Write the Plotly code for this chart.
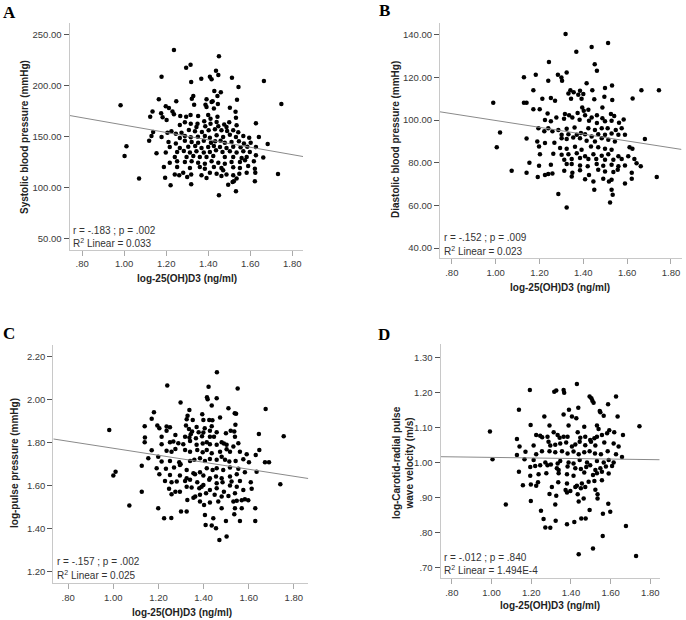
import plotly.graph_objects as go

W, H = 686, 620

# ---------------- data ----------------
vitd_tickvals = [0.8, 1.0, 1.2, 1.4, 1.6, 1.8]
vitd_ticktext = [".80", "1.00", "1.20", "1.40", "1.60", "1.80"]
x_title = "log-25(OH)D3 (ng/ml)"

sbp_points = [
    (1.237, 234.7), (1.451, 228.5), (1.316, 220.4), (1.295, 217.4), (1.437, 214.5), (1.178, 208.6),
    (1.408, 208.6), (1.448, 210.3), (1.416, 206.0), (1.367, 206.7), (1.513, 207.6), (1.319, 203.4),
    (1.665, 204.4), (1.544, 198.5), (1.429, 194.6), (1.460, 193.3), (1.329, 189.7), (1.444, 189.7),
    (1.165, 186.5), (1.248, 184.5), (1.392, 186.5), (1.421, 184.5), (1.537, 186.1), (0.983, 180.6),
    (1.748, 181.9), (1.322, 187.1), (1.333, 181.3), (1.387, 181.3), (1.416, 183.9), (1.446, 181.9),
    (1.198, 179.6), (1.213, 178.0), (1.392, 179.0), (1.427, 177.4), (1.503, 178.3), (1.135, 174.7),
    (1.176, 172.8), (1.124, 169.5), (1.183, 168.9), (1.230, 174.7), (1.237, 171.8), (1.267, 170.2),
    (1.316, 171.2), (1.295, 169.5), (1.352, 170.2), (1.400, 171.2), (1.411, 167.6), (1.444, 169.5),
    (1.530, 174.4), (1.532, 168.6), (1.202, 166.3), (1.289, 164.0), (1.317, 162.7), (1.349, 162.7),
    (1.381, 165.0), (1.411, 162.7), (1.440, 164.3), (1.476, 162.0), (1.500, 164.0), (1.535, 161.1),
    (1.627, 163.0), (1.265, 161.4), (1.344, 159.4), (1.386, 160.1), (1.448, 160.1), (1.487, 159.4),
    (1.138, 154.6), (1.225, 155.2), (1.206, 153.9), (1.246, 152.9), (1.273, 153.9), (1.308, 156.5),
    (1.337, 155.2), (1.370, 154.6), (1.402, 156.2), (1.432, 157.2), (1.463, 156.2), (1.490, 155.5),
    (1.519, 156.2), (1.543, 154.2), (1.130, 150.6), (1.178, 149.7), (1.265, 148.7), (1.289, 150.6),
    (1.317, 149.3), (1.351, 150.0), (1.384, 150.6), (1.408, 149.0), (1.440, 151.3), (1.471, 149.7),
    (1.503, 151.9), (1.532, 149.7), (1.567, 150.6), (1.595, 149.0), (1.641, 149.7), (1.119, 146.1),
    (1.211, 144.8), (1.246, 143.2), (1.289, 146.1), (1.321, 144.8), (1.352, 144.1), (1.379, 146.1),
    (1.413, 144.1), (1.433, 145.4), (1.459, 146.1), (1.479, 144.1), (1.511, 144.8), (1.546, 145.4),
    (1.570, 143.2), (1.602, 144.1), (1.683, 142.8), (1.217, 139.9), (1.265, 138.9), (1.305, 140.2),
    (1.338, 140.9), (1.368, 138.9), (1.400, 139.9), (1.427, 140.9), (1.456, 139.9), (1.487, 138.9),
    (1.519, 140.2), (1.554, 139.6), (1.586, 140.2), (1.627, 139.9), (1.011, 140.5), (1.002, 131.1),
    (1.154, 133.7), (1.198, 134.4), (1.252, 135.0), (1.284, 136.0), (1.313, 134.4), (1.344, 135.7),
    (1.379, 134.4), (1.408, 135.0), (1.437, 136.6), (1.468, 135.0), (1.503, 135.7), (1.535, 134.4),
    (1.567, 135.7), (1.598, 135.0), (1.627, 131.8), (1.662, 129.5), (1.241, 130.1), (1.297, 130.1),
    (1.329, 131.1), (1.360, 130.1), (1.392, 130.1), (1.424, 131.1), (1.479, 130.1), (1.519, 130.1),
    (1.559, 129.2), (1.583, 130.1), (1.217, 124.6), (1.252, 125.9), (1.289, 125.2), (1.321, 125.9),
    (1.352, 124.6), (1.384, 123.6), (1.416, 125.9), (1.448, 124.6), (1.479, 123.6), (1.511, 125.2),
    (1.551, 125.2), (1.575, 126.9), (1.617, 125.9), (1.189, 120.3), (1.252, 120.3), (1.313, 119.4),
    (1.360, 120.3), (1.384, 118.7), (1.427, 120.3), (1.463, 119.4), (1.471, 117.1), (1.519, 120.0),
    (1.551, 119.4), (1.590, 121.3), (1.622, 118.7), (1.281, 114.8), (1.241, 112.9), (1.262, 112.2),
    (1.319, 112.9), (1.368, 112.2), (1.408, 114.8), (1.440, 113.8), (1.487, 112.9), (1.519, 112.2),
    (1.548, 113.8), (1.583, 114.8), (1.624, 114.8), (1.732, 113.5), (1.071, 109.0), (1.195, 109.9),
    (1.300, 110.6), (1.392, 109.6), (1.463, 111.6), (1.535, 109.0), (1.522, 106.3), (1.622, 106.3),
    (1.221, 102.4), (1.319, 103.4), (1.495, 103.1), (1.516, 105.7), (1.532, 96.6), (1.451, 92.7),
]

dbp_points = [
    (1.319, 140.3), (1.513, 136.1), (1.438, 134.2), (1.368, 132.0), (1.243, 127.2), (1.452, 126.2),
    (1.462, 123.1), (1.183, 121.2), (1.129, 120.1), (1.284, 121.2), (1.324, 122.3), (1.300, 120.0),
    (1.303, 118.4), (1.240, 118.4), (1.415, 117.2), (1.172, 114.0), (1.341, 114.0), (1.385, 113.7),
    (1.441, 114.0), (1.499, 115.0), (1.531, 116.2), (1.665, 114.0), (1.745, 114.0), (1.356, 113.0),
    (1.332, 112.5), (1.377, 111.9), (1.400, 112.2), (0.989, 108.1), (1.129, 108.1), (1.141, 108.1),
    (1.213, 110.0), (1.252, 110.3), (1.271, 109.0), (1.344, 110.0), (1.392, 110.0), (1.450, 109.7),
    (1.496, 110.9), (1.532, 109.4), (1.625, 110.1), (1.172, 105.1), (1.201, 105.1), (1.237, 103.1),
    (1.277, 101.2), (1.316, 102.8), (1.335, 102.2), (1.374, 103.3), (1.395, 105.9), (1.402, 104.4),
    (1.423, 104.8), (1.408, 102.2), (1.462, 102.2), (1.487, 105.9), (1.438, 101.2), (1.487, 100.9),
    (1.526, 102.8), (1.541, 101.9), (1.584, 100.3), (1.225, 100.0), (1.252, 99.4), (1.312, 100.6),
    (1.350, 101.2), (1.383, 100.1), (1.426, 99.7), (1.462, 98.6), (1.499, 99.4), (1.529, 99.7),
    (1.563, 98.7), (1.195, 96.2), (1.240, 96.2), (1.259, 94.7), (1.222, 94.7), (1.286, 95.4),
    (1.324, 95.9), (1.360, 96.5), (1.389, 93.9), (1.423, 96.2), (1.453, 95.4), (1.484, 96.2),
    (1.511, 96.2), (1.548, 95.3), (1.575, 96.2), (1.590, 93.1), (1.301, 93.1), (1.332, 93.4),
    (1.370, 93.1), (1.408, 93.4), (1.438, 92.3), (1.468, 93.4), (1.499, 93.1), (1.529, 93.7),
    (1.560, 93.1), (1.020, 94.2), (1.141, 91.4), (1.190, 90.0), (1.225, 89.2), (1.268, 89.4),
    (1.301, 91.5), (1.324, 91.1), (1.354, 91.8), (1.385, 91.5), (1.415, 90.3), (1.453, 90.0),
    (1.484, 91.5), (1.514, 90.8), (1.544, 90.0), (1.681, 91.1), (1.005, 87.3), (1.198, 87.6),
    (1.294, 86.9), (1.324, 86.5), (1.362, 87.5), (1.392, 86.1), (1.435, 87.6), (1.468, 87.2),
    (1.499, 86.5), (1.529, 86.1), (1.611, 87.3), (1.624, 86.5), (1.263, 84.2), (1.301, 83.7),
    (1.332, 84.0), (1.370, 84.4), (1.408, 83.0), (1.446, 84.0), (1.484, 83.3), (1.514, 84.0),
    (1.560, 83.0), (1.605, 83.0), (1.202, 84.0), (1.313, 81.4), (1.347, 81.7), (1.385, 82.2),
    (1.423, 81.7), (1.459, 81.8), (1.499, 81.4), (1.537, 81.4), (1.575, 81.8), (1.633, 81.8),
    (1.154, 80.0), (1.198, 78.6), (1.252, 79.1), (1.324, 79.4), (1.347, 79.4), (1.385, 78.7),
    (1.420, 78.3), (1.461, 79.4), (1.491, 78.6), (1.529, 79.1), (1.560, 78.3), (1.590, 78.7),
    (1.643, 79.8), (1.662, 78.3), (1.073, 76.2), (1.141, 75.3), (1.225, 74.3), (1.240, 74.7),
    (1.259, 75.0), (1.313, 76.2), (1.350, 75.3), (1.385, 76.5), (1.426, 74.3), (1.468, 76.7),
    (1.499, 75.9), (1.537, 75.6), (1.557, 76.7), (1.621, 75.3), (1.192, 73.3), (1.347, 73.6),
    (1.408, 72.2), (1.446, 71.2), (1.491, 72.5), (1.517, 71.2), (1.529, 72.0), (1.590, 70.3),
    (1.621, 72.5), (1.735, 73.3), (1.450, 67.3), (1.529, 67.3), (1.286, 65.3), (1.534, 65.0),
    (1.522, 61.4), (1.324, 59.0),
]

pp_points = [
    (1.459, 2.127), (1.239, 2.065), (1.422, 2.060), (1.551, 2.051), (1.415, 2.011), (1.418, 2.001),
    (1.458, 2.006), (1.298, 1.986), (1.436, 1.972), (1.337, 1.951), (1.510, 1.959), (1.538, 1.936),
    (1.544, 1.934), (1.675, 1.956), (1.180, 1.941), (1.170, 1.910), (1.329, 1.924), (1.325, 1.908),
    (1.352, 1.905), (1.394, 1.931), (1.399, 1.905), (1.425, 1.905), (1.439, 1.903), (1.473, 1.916),
    (1.139, 1.876), (1.195, 1.879), (1.204, 1.866), (1.236, 1.874), (1.251, 1.871), (1.322, 1.879),
    (1.335, 1.863), (1.369, 1.872), (1.405, 1.866), (1.436, 1.876), (1.541, 1.883), (1.536, 1.851),
    (1.349, 1.851), (1.343, 1.838), (1.378, 1.848), (1.399, 1.846), (1.428, 1.854), (1.458, 1.848),
    (1.499, 1.843), (1.140, 1.823), (1.139, 1.801), (1.214, 1.827), (1.236, 1.854), (1.275, 1.835),
    (1.318, 1.827), (1.337, 1.823), (1.366, 1.820), (1.393, 1.829), (1.428, 1.827), (1.446, 1.827),
    (1.520, 1.854), (1.539, 1.827), (1.645, 1.840), (1.755, 1.829), (0.982, 1.858), (1.170, 1.764),
    (1.214, 1.792), (1.251, 1.801), (1.266, 1.804), (1.288, 1.796), (1.310, 1.792), (1.340, 1.807),
    (1.369, 1.789), (1.396, 1.795), (1.414, 1.801), (1.428, 1.792), (1.458, 1.789), (1.480, 1.801),
    (1.490, 1.795), (1.502, 1.789), (1.532, 1.781), (1.554, 1.796), (1.647, 1.765), (1.631, 1.742),
    (1.236, 1.761), (1.258, 1.757), (1.275, 1.770), (1.318, 1.765), (1.340, 1.757), (1.372, 1.765),
    (1.396, 1.754), (1.414, 1.765), (1.436, 1.750), (1.473, 1.757), (1.502, 1.768), (1.517, 1.757),
    (1.561, 1.757), (1.591, 1.745), (1.155, 1.726), (1.199, 1.734), (1.214, 1.711), (1.251, 1.714),
    (1.292, 1.708), (1.298, 1.698), (1.340, 1.714), (1.359, 1.720), (1.384, 1.726), (1.406, 1.714),
    (1.428, 1.723), (1.458, 1.719), (1.480, 1.734), (1.495, 1.719), (1.514, 1.711), (1.542, 1.714),
    (1.576, 1.722), (1.601, 1.708), (1.672, 1.708), (1.690, 1.708), (1.126, 1.691), (1.192, 1.680),
    (1.233, 1.677), (1.269, 1.683), (1.295, 1.695), (1.325, 1.672), (1.355, 1.657), (1.384, 1.661),
    (1.414, 1.680), (1.440, 1.672), (1.458, 1.680), (1.487, 1.672), (1.517, 1.683), (1.554, 1.677),
    (1.583, 1.661), (1.635, 1.664), (1.204, 1.652), (1.251, 1.649), (1.295, 1.646), (1.325, 1.633),
    (1.362, 1.652), (1.399, 1.646), (1.428, 1.633), (1.455, 1.641), (1.480, 1.633), (1.517, 1.641),
    (1.547, 1.652), (1.000, 1.646), (1.010, 1.664), (1.229, 1.621), (1.258, 1.615), (1.281, 1.618),
    (1.318, 1.621), (1.340, 1.626), (1.372, 1.615), (1.399, 1.602), (1.425, 1.626), (1.458, 1.610),
    (1.484, 1.615), (1.524, 1.618), (1.561, 1.621), (1.609, 1.615), (1.740, 1.605), (1.247, 1.584),
    (1.275, 1.571), (1.295, 1.571), (1.325, 1.594), (1.347, 1.590), (1.381, 1.587), (1.391, 1.594),
    (1.428, 1.579), (1.458, 1.587), (1.490, 1.571), (1.517, 1.599), (1.547, 1.594), (1.576, 1.579),
    (1.613, 1.584), (1.258, 1.559), (1.355, 1.543), (1.384, 1.556), (1.411, 1.563), (1.449, 1.556),
    (1.480, 1.548), (1.510, 1.551), (1.539, 1.563), (1.569, 1.531), (1.598, 1.531), (1.126, 1.570),
    (1.328, 1.532), (1.363, 1.548), (1.384, 1.525), (1.428, 1.520), (1.465, 1.525), (1.532, 1.525),
    (1.547, 1.528), (1.583, 1.535), (1.071, 1.506), (1.199, 1.494), (1.300, 1.478), (1.325, 1.478),
    (1.402, 1.509), (1.480, 1.494), (1.539, 1.494), (1.536, 1.466), (1.569, 1.494), (1.629, 1.494),
    (1.225, 1.447), (1.257, 1.448), (1.406, 1.462), (1.443, 1.447), (1.499, 1.434), (1.561, 1.434),
    (1.629, 1.434), (1.409, 1.416), (1.436, 1.413), (1.455, 1.400), (1.470, 1.346), (1.502, 1.362),
]

pwv_points = [
    (1.430, 1.224), (1.193, 1.207), (1.316, 1.202), (1.326, 1.205), (1.363, 1.207), (1.366, 1.199),
    (1.494, 1.188), (1.503, 1.183), (1.508, 1.176), (1.514, 1.170), (1.627, 1.188), (1.587, 1.166),
    (1.138, 1.150), (1.390, 1.150), (1.437, 1.156), (1.545, 1.147), (1.548, 1.143), (1.363, 1.137),
    (1.405, 1.131), (1.427, 1.126), (1.266, 1.131), (1.565, 1.133), (1.635, 1.131), (0.992, 1.088),
    (1.197, 1.107), (1.745, 1.103), (1.292, 1.105), (1.388, 1.105), (1.467, 1.102), (1.531, 1.105),
    (1.539, 1.095), (1.593, 1.092), (1.128, 1.067), (1.225, 1.078), (1.245, 1.076), (1.255, 1.072),
    (1.282, 1.073), (1.313, 1.086), (1.333, 1.078), (1.343, 1.070), (1.363, 1.073), (1.383, 1.073),
    (1.434, 1.086), (1.447, 1.070), (1.472, 1.073), (1.497, 1.064), (1.518, 1.069), (1.531, 1.073),
    (1.556, 1.078), (1.582, 1.083), (1.618, 1.086), (1.662, 1.078), (1.141, 1.045), (1.212, 1.048),
    (1.287, 1.059), (1.296, 1.048), (1.321, 1.050), (1.346, 1.054), (1.376, 1.057), (1.405, 1.045),
    (1.422, 1.051), (1.444, 1.059), (1.472, 1.049), (1.501, 1.059), (1.523, 1.048), (1.568, 1.057),
    (1.615, 1.054), (1.640, 1.045), (1.171, 1.030), (1.128, 1.021), (1.225, 1.023), (1.254, 1.032),
    (1.292, 1.032), (1.321, 1.029), (1.355, 1.032), (1.383, 1.025), (1.413, 1.031), (1.439, 1.023),
    (1.467, 1.029), (1.494, 1.032), (1.521, 1.025), (1.551, 1.023), (1.585, 1.032), (1.627, 1.023),
    (1.657, 1.015), (1.005, 1.009), (1.166, 1.009), (1.212, 1.007), (1.271, 1.000), (1.299, 0.994),
    (1.333, 0.997), (1.346, 1.004), (1.388, 1.000), (1.413, 0.997), (1.444, 1.007), (1.481, 1.000),
    (1.497, 0.992), (1.531, 1.004), (1.565, 1.000), (1.590, 1.007), (1.615, 1.000), (1.195, 0.987),
    (1.220, 0.990), (1.245, 0.992), (1.282, 0.992), (1.329, 0.983), (1.338, 0.978), (1.383, 0.988),
    (1.422, 0.983), (1.450, 0.981), (1.477, 0.987), (1.523, 0.978), (1.548, 0.983), (1.576, 0.988),
    (1.607, 0.990), (1.138, 0.973), (1.195, 0.962), (1.237, 0.966), (1.276, 0.969), (1.338, 0.969),
    (1.380, 0.966), (1.413, 0.962), (1.467, 0.971), (1.511, 0.964), (1.531, 0.969), (1.556, 0.973),
    (1.590, 0.968), (1.158, 0.935), (1.198, 0.937), (1.225, 0.933), (1.234, 0.943), (1.336, 0.943),
    (1.380, 0.940), (1.430, 0.933), (1.455, 0.940), (1.489, 0.945), (1.518, 0.947), (1.556, 0.949),
    (1.304, 0.930), (1.373, 0.921), (1.397, 0.918), (1.422, 0.930), (1.450, 0.926), (1.472, 0.930),
    (1.523, 0.922), (1.292, 0.910), (1.380, 0.914), (1.434, 0.909), (1.534, 0.909), (1.326, 0.905),
    (1.464, 0.897), (1.198, 0.890), (1.072, 0.880), (1.249, 0.862), (1.588, 0.882), (1.321, 0.880),
    (1.439, 0.888), (1.534, 0.897), (1.494, 0.864), (1.598, 0.859), (1.561, 0.853), (1.262, 0.838),
    (1.323, 0.833), (1.380, 0.823), (1.417, 0.830), (1.452, 0.840), (1.474, 0.840), (1.271, 0.814),
    (1.296, 0.813), (1.677, 0.818), (1.560, 0.790), (1.511, 0.754), (1.439, 0.738), (1.728, 0.733),
]

# y-axis ticks
sbp_tickvals = [50, 100, 150, 200, 250]
sbp_ticktext = ["50.00", "100.00", "150.00", "200.00", "250.00"]
dbp_tickvals = [40, 60, 80, 100, 120, 140]
dbp_ticktext = ["40.00", "60.00", "80.00", "100.00", "120.00", "140.00"]
pp_tickvals = [1.2, 1.4, 1.6, 1.8, 2.0, 2.2]
pp_ticktext = ["1.20", "1.40", "1.60", "1.80", "2.00", "2.20"]
pwv_tickvals = [0.7, 0.8, 0.9, 1.0, 1.1, 1.2, 1.3]
pwv_ticktext = [".70", ".80", ".90", "1.00", "1.10", "1.20", "1.30"]

# linear fits (intercept, slope) as drawn
sbp_fit = (197.4, -36.1)
dbp_fit = (115.8, -16.0)
pp_fit = (1.936, -0.163)
pwv_fit = (1.022, -0.0078)

sbp_stats = ["r = -.183 ; p = .002", "R<sup>2</sup> Linear = 0.033"]
dbp_stats = ["r = -.152 ; p = .009", "R<sup>2</sup> Linear = 0.023"]
pp_stats = ["r = -.157 ; p = .002", "R<sup>2</sup> Linear = 0.025"]
pwv_stats = ["r = -.012 ; p = .840", "R<sup>2</sup> Linear = 1.494E-4"]

# ---------------- layout helpers ----------------
def fx(px):
    return px / W

def fy(py):
    return 1 - py / H

FONT = "Liberation Sans, Arial, sans-serif"

panels = [
    dict(letter="A", pts=sbp_points, fit=sbp_fit, stats=sbp_stats,
         tv=sbp_tickvals, tt=sbp_ticktext, ytitle=["Systolic blood pressure (mmHg)"],
         box=(69.5, 303.0, 23.0, 250.0), xr=[0.740, 1.851], yr=[39.2, 261.1],
         letter_pos=(9, 12), ytitle_pos=(24, 137), xtitle_pos=(187, 278),
         stats_pos=(71, 230, 243)),
    dict(letter="B", pts=dbp_points, fit=dbp_fit, stats=dbp_stats,
         tv=dbp_tickvals, tt=dbp_ticktext, ytitle=["Diastolic blood pressure (mmHg)"],
         box=(440.0, 681.5, 23.0, 258.3), xr=[0.746, 1.848], yr=[35.2, 145.5],
         letter_pos=(384, 11), ytitle_pos=(395, 140), xtitle_pos=(560, 287),
         stats_pos=(442, 238, 251)),
    dict(letter="C", pts=pp_points, fit=pp_fit, stats=pp_stats,
         tv=pp_tickvals, tt=pp_ticktext, ytitle=["log-pulse pressure (mmHg)"],
         box=(53.3, 308.3, 345.0, 583.3), xr=[0.734, 1.864], yr=[1.144, 2.254],
         letter_pos=(9, 333), ytitle_pos=(14, 463), xtitle_pos=(182, 612),
         stats_pos=(55, 561, 575)),
    dict(letter="D", pts=pwv_points, fit=pwv_fit, stats=pwv_stats,
         tv=pwv_tickvals, tt=pwv_ticktext,
         ytitle=["log-Carotid-radial pulse", "wave velocity (m/s)"],
         box=(440.5, 659.7, 344.0, 578.3), xr=[0.743, 1.847], yr=[0.669, 1.338],
         letter_pos=(384, 334), ytitle_pos=(403, 462), xtitle_pos=(550, 605),
         stats_pos=(442, 557, 570)),
]

fig = go.Figure()
annotations = []
layout_axes = {}

for i, p in enumerate(panels):
    n = i + 1
    xa = "x" if n == 1 else f"x{n}"
    ya = "y" if n == 1 else f"y{n}"
    xs = [pt[0] for pt in p["pts"]]
    ys = [pt[1] for pt in p["pts"]]
    fig.add_trace(go.Scatter(
        x=xs, y=ys, mode="markers", xaxis=xa, yaxis=ya,
        marker=dict(size=4.5, color="black", line=dict(width=0)),
        showlegend=False, hoverinfo="skip"))
    a, b = p["fit"]
    fig.add_trace(go.Scatter(
        x=p["xr"], y=[a + b * p["xr"][0], a + b * p["xr"][1]], mode="lines",
        xaxis=xa, yaxis=ya, line=dict(color="#8a8a8a", width=1),
        showlegend=False, hoverinfo="skip", cliponaxis=True))

    left, right, top, bottom = p["box"]
    xkey = "xaxis" if n == 1 else f"xaxis{n}"
    ykey = "yaxis" if n == 1 else f"yaxis{n}"
    layout_axes[xkey] = dict(
        domain=[fx(left), fx(right)], anchor=ya, range=p["xr"],
        tickvals=vitd_tickvals, ticktext=vitd_ticktext,
        showgrid=False, zeroline=False, showline=True, linecolor="#c8c8c8", linewidth=1,
        ticks="outside", ticklen=5, tickcolor="#aaaaaa", tickwidth=1,
        tickfont=dict(family=FONT, size=9.5, color="#3a3a3a"), fixedrange=True)
    layout_axes[ykey] = dict(
        domain=[fy(bottom), fy(top)], anchor=xa, range=p["yr"],
        tickvals=p["tv"], ticktext=p["tt"],
        showgrid=False, zeroline=False, showline=True, linecolor="#c8c8c8", linewidth=1,
        ticks="outside", ticklen=5, tickcolor="#555555", tickwidth=1,
        tickfont=dict(family=FONT, size=9.5, color="#3a3a3a"), fixedrange=True)

    # panel letter
    lx, ly = p["letter_pos"]
    annotations.append(dict(
        text=f"<b>{p['letter']}</b>", x=fx(lx), y=fy(ly), xref="paper", yref="paper",
        xanchor="center", yanchor="middle", showarrow=False,
        font=dict(family="Liberation Serif, Times New Roman, serif", size=17, color="black")))
    # y title
    tx, tyc = p["ytitle_pos"]
    annotations.append(dict(
        text="<b>" + "<br>".join(p["ytitle"]) + "</b>", x=fx(tx), y=fy(tyc),
        xref="paper", yref="paper", xanchor="center", yanchor="middle",
        textangle=-90, showarrow=False,
        font=dict(family=FONT, size=10, color="#222222")))
    # x title
    xx, xy = p["xtitle_pos"]
    annotations.append(dict(
        text=f"<b>{x_title}</b>", x=fx(xx), y=fy(xy), xref="paper", yref="paper",
        xanchor="center", yanchor="middle", showarrow=False,
        font=dict(family=FONT, size=10, color="#222222")))
    # stats text
    sx, sy1, sy2 = p["stats_pos"]
    for txt, syy in zip(p["stats"], (sy1, sy2)):
        annotations.append(dict(
            text=txt, x=fx(sx), y=fy(syy), xref="paper", yref="paper",
            xanchor="left", yanchor="middle", showarrow=False,
            font=dict(family=FONT, size=10, color="#333333")))

fig.update_layout(
    width=W, height=H, margin=dict(l=0, r=0, t=0, b=0),
    paper_bgcolor="white", plot_bgcolor="white",
    annotations=annotations, showlegend=False, **layout_axes)

fig.write_html(
    "out.html", include_plotlyjs=True, config={"displayModeBar": False},
    post_script="document.body.style.margin='0px';document.body.style.overflow='hidden';")
